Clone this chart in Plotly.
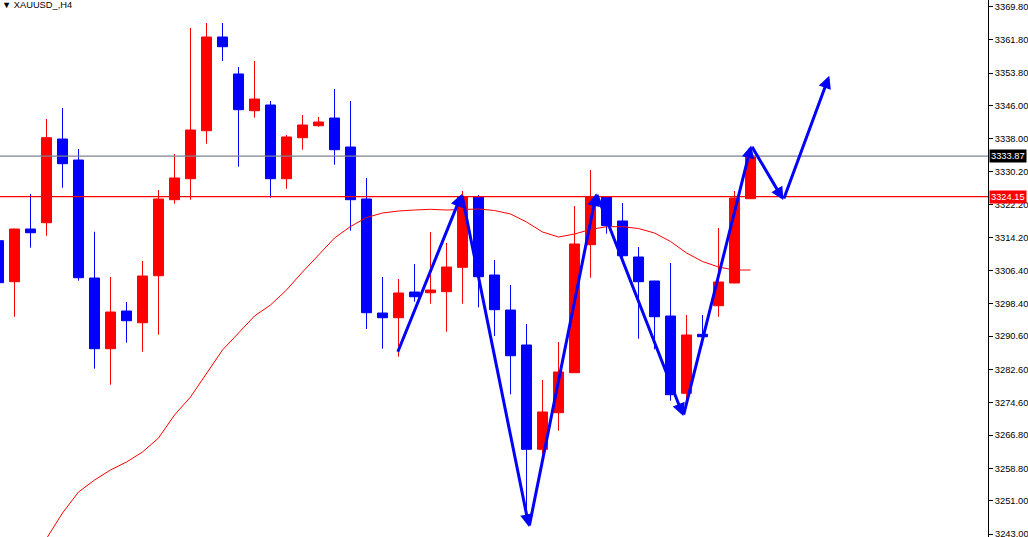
import plotly.graph_objects as go

# ---- data (XAUUSD, H4) ----
candle_idx = list(range(48))
opens = [3313.53, 3303.67, 3316.34, 3317.86, 3337.98, 3332.93, 3304.56, 3287.56, 3296.62, 3293.81,
         3305.11, 3323.39, 3328.44, 3339.98, 3362.51, 3353.62, 3344.79, 3346.16, 3328.44, 3338.30,
         3341.18, 3343.03, 3336.06, 3323.56, 3296.14, 3295.01, 3301.19, 3301.02, 3301.27, 3307.13,
         3324.11, 3305.28, 3296.86, 3288.45, 3263.37, 3272.17, 3281.79, 3312.57, 3324.11, 3318.27,
         3309.61, 3303.84, 3295.42, 3276.83, 3291.02, 3297.90, 3303.36, 3323.63]
highs = [3315.62, 3316.40, 3324.76, 3342.79, 3345.44, 3335.58, 3315.69, 3304.80, 3298.79, 3308.65,
         3325.72, 3334.38, 3364.68, 3365.88, 3365.88, 3355.30, 3356.74, 3347.12, 3338.95, 3343.76,
         3343.28, 3350.01, 3347.12, 3328.61, 3304.80, 3304.32, 3307.93, 3315.62, 3312.98, 3325.48,
         3324.52, 3308.89, 3302.88, 3293.50, 3280.03, 3289.17, 3321.87, 3330.53, 3324.28, 3322.59,
         3312.01, 3303.90, 3308.17, 3295.66, 3295.66, 3316.58, 3325.48, 3334.00]
lows = [3302.15, 3295.25, 3311.85, 3314.73, 3326.27, 3303.91, 3282.75, 3278.90, 3289.00, 3286.84,
        3290.93, 3322.43, 3323.39, 3336.85, 3356.74, 3331.32, 3343.11, 3323.87, 3326.03, 3335.41,
        3340.94, 3331.80, 3315.93, 3292.30, 3287.56, 3285.63, 3298.86, 3298.38, 3291.65, 3298.38,
        3297.51, 3290.61, 3276.59, 3246.37, 3260.96, 3267.84, 3281.72, 3304.63, 3315.21, 3308.89,
        3289.96, 3287.41, 3275.05, 3274.02, 3288.45, 3295.25, 3303.30, 3323.60]
closes = [3303.43, 3316.34, 3315.45, 3338.30, 3332.05, 3304.63, 3287.56, 3296.38, 3294.29, 3305.04,
          3323.56, 3328.61, 3340.15, 3362.51, 3360.18, 3345.03, 3347.60, 3328.44, 3338.47, 3341.35,
          3342.07, 3335.41, 3323.39, 3296.22, 3295.01, 3300.95, 3300.06, 3301.67, 3307.20, 3324.11,
          3304.87, 3296.94, 3285.87, 3263.37, 3272.34, 3281.96, 3312.74, 3324.11, 3317.14, 3309.92,
          3303.67, 3295.25, 3276.50, 3290.85, 3290.44, 3303.60, 3323.80, 3333.87]

ma_idx = list(range(2, 48))
ma_values = [3236.27, 3241.92, 3248.05, 3253.10, 3255.98, 3258.39, 3260.31, 3262.72, 3266.08, 3271.61,
             3275.94, 3281.71, 3287.25, 3291.33, 3295.42, 3298.07, 3301.67, 3306.00, 3310.09, 3314.18,
             3316.94, 3319.11, 3320.19, 3320.67, 3320.91, 3321.08, 3320.91, 3321.03, 3321.15, 3320.79,
             3319.95, 3318.03, 3315.62, 3314.42, 3315.14, 3316.22, 3316.90, 3316.90, 3316.46, 3315.38,
             3313.34, 3310.57, 3308.53, 3307.20, 3306.48, 3306.48]

wave_x = [24.92, 28.95, 33.16, 37.36, 42.80, 47.04, 49.05, 51.92]
wave_y = [3286.45, 3324.76, 3244.68, 3324.93, 3271.37, 3336.45, 3323.32, 3353.21]

bid_price = 3333.87
level_price = 3324.15

tick_vals = [3369.80, 3361.80, 3353.80, 3346.00, 3338.00, 3330.20, 3322.20, 3314.20, 3306.40,
             3298.40, 3290.60, 3282.60, 3274.60, 3266.80, 3258.80, 3251.00, 3243.00]
tick_text = ["%.2f" % v for v in tick_vals]

title_text = "XAUUSD_,H4"

RED = "#FF0000"
BLUE = "#0000FF"
FONT = "Liberation Sans"
FSIZE = 9.3

fig = go.Figure()

fig.add_trace(go.Candlestick(
    x=candle_idx, open=opens, high=highs, low=lows, close=closes,
    increasing=dict(line=dict(color=RED, width=1), fillcolor=RED),
    decreasing=dict(line=dict(color=BLUE, width=1), fillcolor=BLUE),
    whiskerwidth=0, showlegend=False, hoverinfo="skip",
))

fig.add_trace(go.Scatter(
    x=ma_idx, y=ma_values, mode="lines",
    line=dict(color=RED, width=1), showlegend=False, hoverinfo="skip",
))

# horizontal levels
fig.add_shape(type="line", xref="paper", x0=0, x1=1, yref="y", y0=bid_price, y1=bid_price,
              line=dict(color="#7F8290", width=1.3), layer="above")
fig.add_shape(type="line", xref="paper", x0=0, x1=1, yref="y", y0=level_price, y1=level_price,
              line=dict(color=RED, width=1.3), layer="above")

# wave arrows
for k in range(len(wave_x) - 1):
    fig.add_annotation(
        x=wave_x[k + 1], y=wave_y[k + 1], ax=wave_x[k], ay=wave_y[k],
        xref="x", yref="y", axref="x", ayref="y", text="",
        showarrow=True, arrowhead=2, arrowsize=0.85, arrowwidth=3,
        arrowcolor=BLUE, standoff=0, startstandoff=0,
    )

# lowest tick label (cut by the bottom edge in the original)
fig.add_annotation(x=1, xref="paper", xanchor="left", xshift=5, y=tick_vals[-1], yref="y",
                   yanchor="middle", text=tick_text[-1], showarrow=False,
                   font=dict(family=FONT, size=FSIZE, color="#000000"))

# price labels on the axis
fig.add_annotation(x=1, xref="paper", xanchor="left", xshift=1, y=bid_price, yref="y",
                   text="%.2f" % bid_price, showarrow=False, bgcolor="#000000",
                   font=dict(family=FONT, size=FSIZE, color="#FFFFFF"), borderpad=1)
fig.add_annotation(x=1, xref="paper", xanchor="left", xshift=1, y=level_price, yref="y",
                   text="%.2f" % level_price, showarrow=False, bgcolor=RED,
                   font=dict(family=FONT, size=FSIZE, color="#FFFFFF"), borderpad=1)

# title
fig.add_annotation(x=0, xref="paper", xanchor="left", y=1, yref="paper", yanchor="top",
                   text="▼ " + title_text, showarrow=False, yshift=2,
                   font=dict(family=FONT, size=FSIZE, color="#000000"))

fig.update_layout(
    width=1028, height=537,
    margin=dict(l=0, r=40, t=0, b=0),
    paper_bgcolor="#FFFFFF", plot_bgcolor="#FFFFFF",
    boxgap=0.375, boxgroupgap=0,
    xaxis=dict(range=[0.094, 61.84], showgrid=False, zeroline=False, showticklabels=False,
               ticks="", showline=False, rangeslider=dict(visible=False), fixedrange=True),
    yaxis=dict(range=[3242.28, 3371.41], side="right", showgrid=False, zeroline=False,
               tickvals=tick_vals, ticktext=tick_text, ticks="outside", ticklen=4,
               tickcolor="#000000", showline=True, linecolor="#000000", linewidth=1,
               tickfont=dict(family=FONT, size=FSIZE, color="#000000"), automargin=False,
               fixedrange=True),
    showlegend=False,
)

fig.write_html("out.html", config={"displayModeBar": False},
               post_script="document.body.style.margin='0';document.body.style.padding='0';")
